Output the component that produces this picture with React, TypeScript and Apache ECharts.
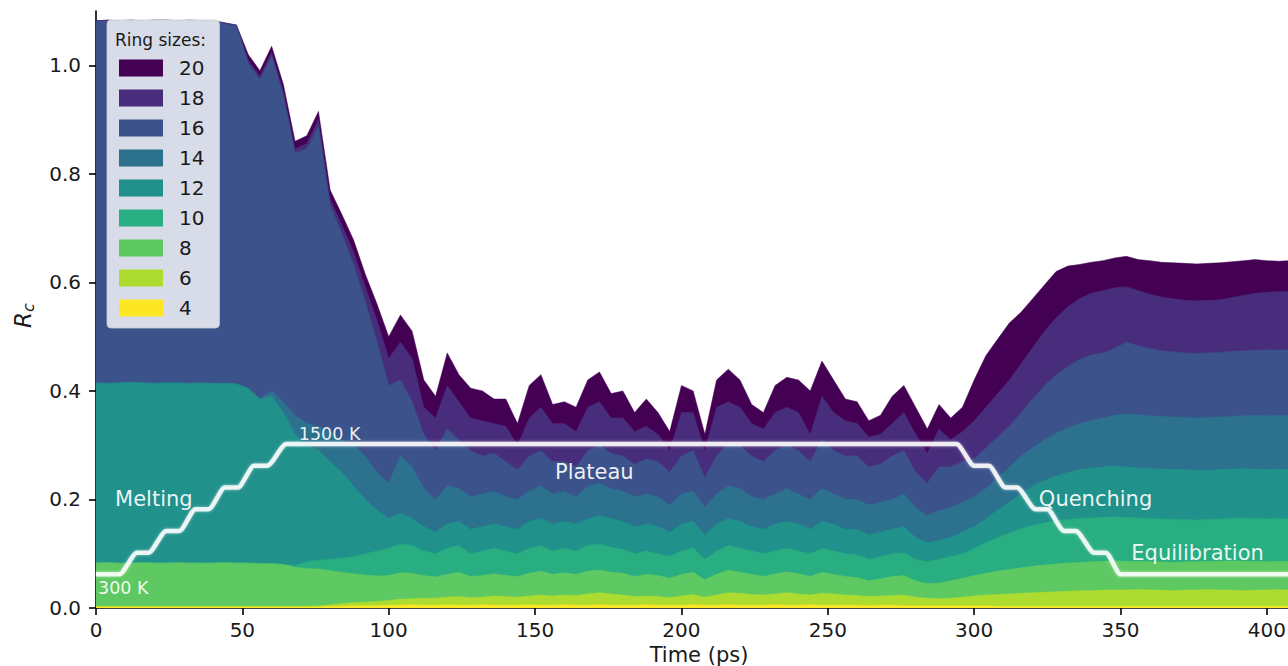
import React, { useEffect, useRef } from "react";
import * as echarts from "echarts";

// Time grid (ps)
const TIME = [
  0, 4, 8, 12, 16, 20, 24, 28, 32, 36, 40, 44, 48, 52, 56, 60, 64, 68, 72, 76, 80, 84, 88, 92, 96,
  100, 104, 108, 112, 116, 120, 124, 128, 132, 136, 140, 144, 148, 152, 156, 160, 164, 168, 172, 176,
  180, 184, 188, 192, 196, 200, 204, 208, 212, 216, 220, 224, 228, 232, 236, 240, 244, 248, 252, 256,
  260, 264, 268, 272, 276, 280, 284, 288, 292, 296, 300, 304, 308, 312, 316, 320, 324, 328, 332, 336,
  340, 344, 348, 352, 356, 360, 364, 368, 372, 376, 380, 384, 388, 392, 396, 400, 404, 408, 412,
];

const RING_SIZES = [4, 6, 8, 10, 12, 14, 16, 18, 20];

// Cumulative R_c (sum of all ring sizes up to and including n)
const CUM_4 = [
  0.002, 0.002, 0.002, 0.002, 0.002, 0.002, 0.002, 0.002, 0.002, 0.002, 0.002, 0.002, 0.002,
  0.002, 0.002, 0.002, 0.002, 0.002, 0.002, 0.002, 0.003, 0.003, 0.004, 0.004, 0.004,
  0.005, 0.005, 0.006, 0.005, 0.005, 0.006, 0.005, 0.005, 0.006, 0.005, 0.005,
  0.005, 0.006, 0.005, 0.005, 0.006, 0.005, 0.005, 0.006, 0.005, 0.005, 0.005, 0.006, 0.005, 0.005,
  0.005, 0.006, 0.005, 0.005, 0.006, 0.005, 0.005, 0.005, 0.006, 0.005, 0.005, 0.006, 0.005, 0.005,
  0.005, 0.005, 0.004, 0.005, 0.005, 0.004, 0.004, 0.004, 0.004, 0.004, 0.004,
  0.004, 0.004, 0.003, 0.003, 0.003, 0.003, 0.003, 0.003, 0.003, 0.003, 0.003, 0.003, 0.003,
  0.003, 0.003, 0.003, 0.003, 0.003, 0.003, 0.003, 0.003, 0.003, 0.003, 0.003, 0.003, 0.003, 0.003, 0.003, 0.003,
];
const CUM_6 = [
  0.003, 0.003, 0.003, 0.003, 0.003, 0.003, 0.003, 0.003, 0.003, 0.003, 0.003, 0.003, 0.003,
  0.003, 0.003, 0.003, 0.003, 0.003, 0.003, 0.004, 0.006, 0.008, 0.01, 0.011, 0.012,
  0.014, 0.016, 0.017, 0.018, 0.018, 0.02, 0.021, 0.019, 0.02, 0.022, 0.021,
  0.02, 0.022, 0.024, 0.022, 0.024, 0.023, 0.026, 0.028, 0.026, 0.024, 0.021, 0.022, 0.021, 0.019,
  0.022, 0.025, 0.02, 0.024, 0.028, 0.027, 0.025, 0.024, 0.026, 0.028, 0.026, 0.024, 0.027, 0.026,
  0.024, 0.023, 0.021, 0.022, 0.023, 0.024, 0.02, 0.018, 0.017, 0.018, 0.02,
  0.022, 0.024, 0.025, 0.026, 0.027, 0.028, 0.029, 0.03, 0.031, 0.032, 0.032, 0.033, 0.033,
  0.033, 0.034, 0.033, 0.033, 0.032, 0.033, 0.033, 0.034, 0.033, 0.033, 0.032, 0.033, 0.033, 0.034, 0.033, 0.033,
];
const CUM_8 = [
  0.083, 0.084, 0.083, 0.083, 0.084, 0.083, 0.083, 0.084, 0.083, 0.083, 0.083, 0.084, 0.083,
  0.083, 0.082, 0.082, 0.08, 0.075, 0.073, 0.072, 0.069, 0.066, 0.063, 0.061, 0.059,
  0.06, 0.065, 0.064, 0.06, 0.057, 0.062, 0.066, 0.058, 0.06, 0.063, 0.06,
  0.058, 0.064, 0.068, 0.062, 0.065, 0.062, 0.068, 0.07, 0.066, 0.064, 0.058, 0.062, 0.06, 0.055,
  0.062, 0.066, 0.052, 0.062, 0.07, 0.066, 0.062, 0.058, 0.063, 0.067, 0.063, 0.058, 0.066, 0.062,
  0.058, 0.056, 0.05, 0.054, 0.058, 0.06, 0.05, 0.045, 0.046, 0.05, 0.055,
  0.06, 0.064, 0.068, 0.071, 0.074, 0.077, 0.079, 0.081, 0.083, 0.084, 0.085, 0.086, 0.087,
  0.086, 0.086, 0.085, 0.085, 0.084, 0.085, 0.085, 0.086, 0.086, 0.087, 0.086, 0.086, 0.085, 0.086, 0.086, 0.085,
];
const CUM_10 = [
  0.083, 0.084, 0.083, 0.083, 0.084, 0.083, 0.083, 0.084, 0.083, 0.083, 0.083, 0.084, 0.083,
  0.083, 0.082, 0.082, 0.081, 0.078, 0.085, 0.088, 0.09, 0.092, 0.095, 0.1, 0.105,
  0.11, 0.118, 0.115, 0.105, 0.1, 0.11, 0.115, 0.1, 0.105, 0.11, 0.105,
  0.1, 0.11, 0.115, 0.105, 0.11, 0.105, 0.115, 0.118, 0.112, 0.108, 0.1, 0.105, 0.1, 0.095,
  0.105, 0.11, 0.09, 0.105, 0.115, 0.11, 0.105, 0.1, 0.105, 0.11, 0.105, 0.1, 0.11, 0.105,
  0.1, 0.098, 0.09, 0.095, 0.1, 0.102, 0.09, 0.085, 0.09, 0.095, 0.1,
  0.11, 0.12, 0.13, 0.138, 0.146, 0.152, 0.157, 0.16, 0.163, 0.165, 0.166, 0.167, 0.168,
  0.167, 0.166, 0.165, 0.164, 0.163, 0.163, 0.162, 0.163, 0.164, 0.165, 0.166, 0.165, 0.164, 0.165, 0.164, 0.165,
];
const CUM_12 = [
  0.415, 0.414, 0.415, 0.416, 0.415, 0.414, 0.415, 0.415, 0.414, 0.415, 0.414, 0.414, 0.413,
  0.405, 0.385, 0.39, 0.36, 0.32, 0.3, 0.29, 0.27, 0.25, 0.225, 0.2, 0.18,
  0.165, 0.175, 0.165, 0.15, 0.14, 0.155, 0.16, 0.145, 0.15, 0.155, 0.15,
  0.145, 0.16, 0.165, 0.155, 0.16, 0.155, 0.165, 0.17, 0.165, 0.16, 0.15, 0.155, 0.15, 0.14,
  0.155, 0.16, 0.135, 0.155, 0.165, 0.16, 0.15, 0.145, 0.155, 0.16, 0.155, 0.145, 0.16, 0.155,
  0.145, 0.145, 0.135, 0.14, 0.145, 0.15, 0.13, 0.12, 0.125, 0.13, 0.14,
  0.15, 0.165, 0.18, 0.195, 0.21, 0.225, 0.235, 0.243, 0.25, 0.255, 0.258, 0.26, 0.262,
  0.26, 0.258, 0.257, 0.256, 0.255, 0.255, 0.254, 0.254, 0.255, 0.256, 0.257, 0.256, 0.255, 0.256, 0.255, 0.256,
];
const CUM_14 = [
  0.415, 0.414, 0.415, 0.416, 0.415, 0.414, 0.415, 0.415, 0.414, 0.415, 0.414, 0.414, 0.413,
  0.405, 0.385, 0.4, 0.38, 0.355, 0.34, 0.335, 0.325, 0.31, 0.3, 0.28, 0.25,
  0.23, 0.28, 0.26, 0.22, 0.2, 0.225, 0.22, 0.205, 0.21, 0.215, 0.205,
  0.2, 0.215, 0.225, 0.21, 0.215, 0.205, 0.225, 0.23, 0.22, 0.215, 0.205, 0.21, 0.205, 0.19,
  0.21, 0.215, 0.185, 0.21, 0.225, 0.22, 0.205, 0.2, 0.21, 0.22, 0.21, 0.2, 0.22, 0.21,
  0.2, 0.2, 0.19, 0.195, 0.2, 0.21, 0.185, 0.17, 0.18, 0.185, 0.195,
  0.205, 0.22, 0.24, 0.26, 0.28, 0.295, 0.31, 0.322, 0.332, 0.34, 0.345, 0.35, 0.355,
  0.358, 0.356, 0.354, 0.353, 0.352, 0.351, 0.35, 0.351, 0.352, 0.353, 0.354, 0.355, 0.354, 0.355, 0.354, 0.355,
];
const CUM_16 = [
  1.082, 1.083, 1.082, 1.083, 1.082, 1.083, 1.083, 1.082, 1.083, 1.082, 1.082, 1.078, 1.074,
  1.004, 0.974, 1.017, 0.945, 0.838, 0.846, 0.887, 0.742, 0.69, 0.632, 0.565, 0.49,
  0.41, 0.42, 0.38, 0.32, 0.29, 0.33, 0.31, 0.29, 0.28, 0.285, 0.27,
  0.255, 0.28, 0.29, 0.27, 0.27, 0.26, 0.29, 0.3, 0.285, 0.28, 0.265, 0.275, 0.27, 0.25,
  0.28, 0.29, 0.24, 0.28, 0.305, 0.3, 0.28, 0.27, 0.29, 0.3, 0.29, 0.27, 0.31, 0.29,
  0.28, 0.28, 0.26, 0.265, 0.28, 0.29, 0.25, 0.23, 0.26, 0.26, 0.27,
  0.275, 0.295, 0.315, 0.335, 0.36, 0.385, 0.41, 0.43, 0.445, 0.458, 0.466, 0.47, 0.478,
  0.49, 0.483, 0.478, 0.474, 0.472, 0.47, 0.469, 0.47, 0.471, 0.473, 0.474, 0.475, 0.476, 0.475, 0.476, 0.475,
];
const CUM_18 = [
  1.082, 1.083, 1.082, 1.083, 1.082, 1.083, 1.083, 1.082, 1.083, 1.082, 1.082, 1.078, 1.074,
  1.01, 0.98, 1.024, 0.952, 0.846, 0.856, 0.9, 0.753, 0.706, 0.656, 0.592, 0.53,
  0.46, 0.49, 0.46, 0.37, 0.35, 0.41, 0.38, 0.35, 0.345, 0.34, 0.335,
  0.3, 0.35, 0.37, 0.34, 0.34, 0.325, 0.37, 0.38, 0.35, 0.35, 0.325, 0.335, 0.32, 0.29,
  0.36, 0.36, 0.29, 0.37, 0.38, 0.37, 0.34, 0.33, 0.36, 0.37, 0.36, 0.32, 0.39, 0.36,
  0.345, 0.34, 0.315, 0.32, 0.34, 0.36, 0.32, 0.285, 0.33, 0.31, 0.325,
  0.345, 0.37, 0.395, 0.42, 0.45, 0.48, 0.51, 0.535, 0.555, 0.57, 0.58, 0.585, 0.59,
  0.592, 0.585, 0.578, 0.573, 0.57, 0.567, 0.566, 0.567, 0.568, 0.572, 0.576, 0.58, 0.582, 0.583, 0.584, 0.583,
];
const CUM_20 = [
  1.082, 1.083, 1.082, 1.083, 1.082, 1.083, 1.083, 1.082, 1.083, 1.082, 1.082, 1.078, 1.074,
  1.02, 0.99, 1.035, 0.965, 0.86, 0.87, 0.915, 0.77, 0.725, 0.678, 0.615, 0.56,
  0.5, 0.54, 0.51, 0.42, 0.39, 0.47, 0.43, 0.405, 0.4, 0.385, 0.385,
  0.34, 0.41, 0.43, 0.375, 0.38, 0.37, 0.42, 0.435, 0.395, 0.4, 0.36, 0.385, 0.36, 0.325,
  0.41, 0.4, 0.32, 0.42, 0.44, 0.42, 0.375, 0.36, 0.41, 0.425, 0.42, 0.4, 0.455, 0.42,
  0.385, 0.38, 0.345, 0.355, 0.39, 0.41, 0.37, 0.33, 0.375, 0.35, 0.37,
  0.42, 0.465, 0.495, 0.525, 0.545, 0.57, 0.595, 0.62, 0.63, 0.633, 0.637, 0.64, 0.645,
  0.648, 0.642, 0.64, 0.637, 0.636, 0.635, 0.634, 0.635, 0.636, 0.638, 0.64, 0.642, 0.64, 0.639, 0.64, 0.638,
];
const CUMULATIVE = [CUM_4, CUM_6, CUM_8, CUM_10, CUM_12, CUM_14, CUM_16, CUM_18, CUM_20];

const COLORS = ["#fde725", "#addc30", "#5ec962", "#28ae80", "#21918c", "#2c728e", "#3b528b", "#472d7b", "#440154"];

// Temperature protocol (ps, K)
const TEMP_TIME = [0, 8, 14, 18, 24, 28.5, 34, 38.5, 44, 48.5, 54, 58.5, 65, 294, 300, 305, 310.7, 314.6, 321, 325, 330.7, 334.7, 341, 345, 350, 414];
const TEMP_K = [300, 300, 500, 500, 700, 700, 900, 900, 1100, 1100, 1300, 1300, 1500, 1500, 1300, 1300, 1100, 1100, 900, 900, 700, 700, 500, 500, 300, 300];

// Annotations
const NOTE_TEXT = ["300 K", "1500 K", "Melting", "Plateau", "Quenching", "Equilibration"];
const NOTE_T = [0.7, 69.3, 6.5, 156.8, 322.1, 353.7];
const NOTE_V = [0.037, 0.32, 0.2, 0.25, 0.2, 0.101];
const NOTE_SIZE = [17.5, 17.5, 21, 21, 21, 21];

const Y_TICKS = [0, 0.2, 0.4, 0.6, 0.8, 1.0];
const X_TICKS = [0, 50, 100, 150, 200, 250, 300, 350, 400];

const FONT = "DejaVu Sans";
const tempToRc = (k: number) => 0.062 + (k - 300) * 0.0002;

export default function App() {
  const ref = useRef<HTMLDivElement>(null);
  useEffect(() => {
    if (!ref.current) return;
    const chart = echarts.init(ref.current, undefined, { renderer: "svg" });
    // draw from the largest ring size (back) to the smallest (front)
    const order = RING_SIZES.map((_, k) => k).reverse();
    const areaSeries = order.map((k) => ({
      name: String(RING_SIZES[k]),
      type: "line",
      symbol: "none",
      showSymbol: false,
      color: COLORS[k],
      itemStyle: { color: COLORS[k] },
      lineStyle: { width: 0.5, color: COLORS[k] },
      areaStyle: { color: COLORS[k], opacity: 1, origin: "start" },
      emphasis: { disabled: true },
      silent: true,
      z: 2,
      data: TIME.map((t, i) => [t, CUMULATIVE[k][i]]),
    }));
    const titleGraphic = {
      id: "legend-title",
      type: "text",
      left: 115,
      top: 31,
      z: 100,
      style: { text: "Ring sizes:", fontSize: 17, fill: "#1a1a1a", fontFamily: FONT },
    };
    chart.setOption({
      animation: false,
      backgroundColor: "#ffffff",
      textStyle: { fontFamily: FONT },
      grid: { left: 96, top: 11, width: 1206, height: 597, containLabel: false, outerBoundsMode: "none" },
      xAxis: {
        type: "value",
        min: 0,
        max: 412,
        interval: 50,
        name: "Time (ps)",
        nameLocation: "middle",
        nameGap: 35,
        nameTextStyle: { fontSize: 21, color: "#1a1a1a", fontFamily: FONT },
        axisLine: { show: true, onZero: false, lineStyle: { color: "#000", width: 1.6 } },
        axisTick: { show: true, length: 7, lineStyle: { color: "#000", width: 1.6 }, customValues: X_TICKS },
        axisLabel: { fontSize: 20, color: "#1a1a1a", margin: 12, fontFamily: FONT, customValues: X_TICKS },
        splitLine: { show: false },
      },
      yAxis: {
        type: "value",
        min: 0,
        max: 1.1,
        interval: 0.2,
        name: "{r|R}{s|c}",
        nameLocation: "middle",
        nameRotate: 90,
        nameGap: 60,
        nameTextStyle: {
          color: "#1a1a1a",
          padding: [0, 12, 0, 0],
          rich: {
            r: { fontSize: 23, fontStyle: "italic", fontFamily: FONT, color: "#1a1a1a" },
            s: { fontSize: 16, fontStyle: "italic", fontFamily: FONT, color: "#1a1a1a", verticalAlign: "bottom", padding: [10, 0, 0, 0] },
          },
        },
        axisLine: { show: true, lineStyle: { color: "#000", width: 1.6 } },
        axisTick: { show: true, length: 7, lineStyle: { color: "#000", width: 1.6 }, customValues: Y_TICKS },
        axisLabel: {
          fontSize: 20,
          color: "#1a1a1a",
          margin: 15,
          fontFamily: FONT,
          customValues: Y_TICKS,
          formatter: (v: number) => v.toFixed(1),
        },
        splitLine: { show: false },
      },
      legend: {
        data: ["20", "18", "16", "14", "12", "10", "8", "6", "4"],
        orient: "vertical",
        left: 107,
        top: 20,
        padding: [38, 15, 10, 12],
        itemWidth: 44,
        itemHeight: 17,
        itemGap: 10,
        icon: "rect",
        selectedMode: false,
        backgroundColor: "rgba(255,255,255,0.8)",
        borderColor: "rgba(204,204,204,0.8)",
        borderWidth: 1,
        borderRadius: 4,
        textStyle: { fontSize: 20, color: "#1a1a1a", fontFamily: FONT, padding: [0, 0, 0, 11] },
        z: 10,
      },
      graphic: [titleGraphic],
      series: [
        ...areaSeries,
        {
          name: "Temperature",
          type: "line",
          symbol: "none",
          silent: true,
          smooth: 0.25,
          smoothMonotone: "x",
          z: 5,
          lineStyle: { color: "rgba(255,255,255,0.85)", width: 4.5, shadowBlur: 3, shadowColor: "rgba(255,255,255,0.6)" },
          data: TEMP_TIME.map((t, i) => [t, tempToRc(TEMP_K[i])]),
        },
      ],
    });
    // annotations positioned through the chart's own axes
    const notes = NOTE_TEXT.map((text, i) => {
      const p = chart.convertToPixel({ xAxisIndex: 0, yAxisIndex: 0 }, [NOTE_T[i], NOTE_V[i]]) as number[];
      return {
        id: "note-" + i,
        type: "text",
        x: p[0],
        y: p[1],
        z: 50,
        silent: true,
        style: {
          text,
          fontSize: NOTE_SIZE[i],
          fontFamily: FONT,
          fill: "rgba(255,255,255,0.92)",
          align: "left",
          verticalAlign: "middle",
        },
      };
    });
    chart.setOption({ graphic: [titleGraphic, ...notes] });
    return () => chart.dispose();
  }, []);
  return (
    <div
      ref={ref}
      style={{ position: "fixed", left: 0, top: 0, width: 1288, height: 666, background: "#fff" }}
    />
  );
}
